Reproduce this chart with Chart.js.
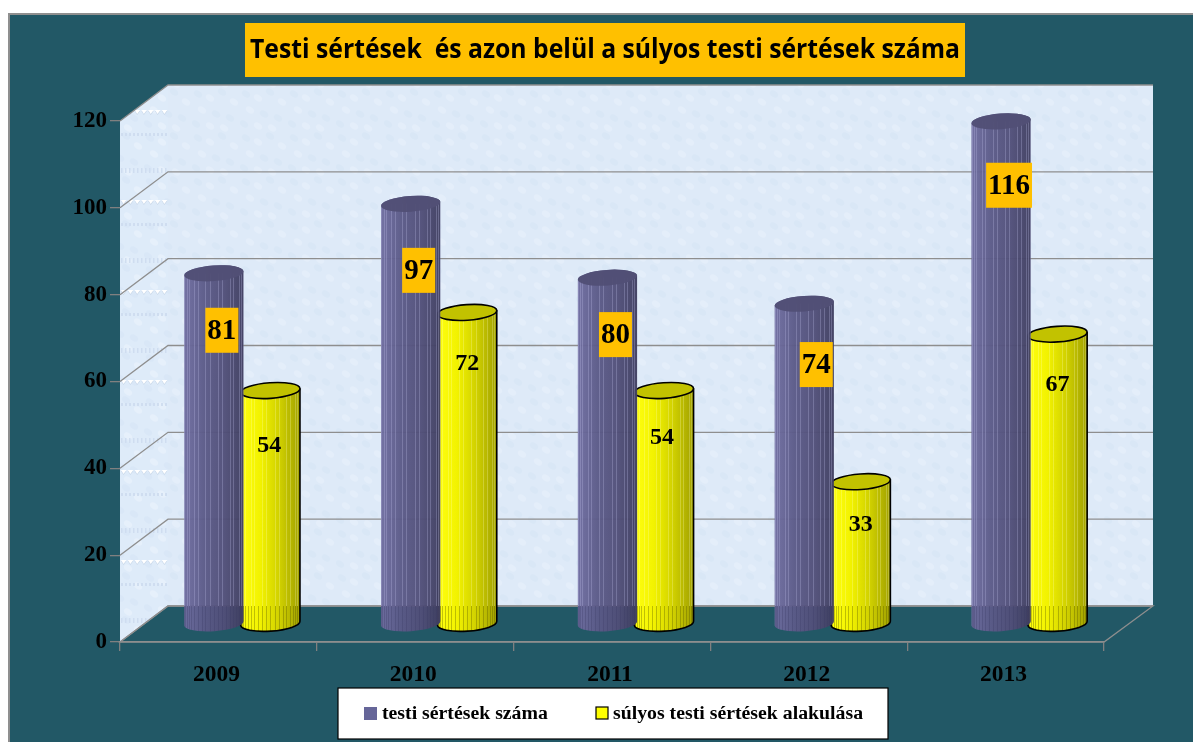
<!DOCTYPE html>
<html>
<head>
<meta charset="utf-8">
<style>html,body{margin:0;padding:0;background:#fff;overflow:hidden}canvas{display:block}</style>
<script src="https://cdn.jsdelivr.net/npm/chart.js@4"></script>
</head>
<body>
<canvas id="c" width="1193" height="742"></canvas>
<script>
const titleText = 'Testi sértések  és azon belül a súlyos testi sértések száma';
const years = ['2009', '2010', '2011', '2012', '2013'];
const testiSertesek = [81, 97, 80, 74, 116];
const sulyosSertesek = [54, 72, 54, 33, 67];
const seriesNames = ['testi sértések száma', 'súlyos testi sértések alakulása'];

const SERIF = '"Liberation Serif"';
const TEAL = '#225866', GREY = '#8e8e8e';
const WALL = {dx: 48, dy: -36};
const BAR = {dx: 23.7, dy: -17, rx: 29.7, ry: 7.8, rot: -0.07};
// Where each manually placed data label sits in the reference (axis units / px shift)
const labelPlace = [
  {at: [71.8, 85.6, 70.8, 63.9, 105.2], shift: [8, 8, 8, 12, 8], size: 29, box: true},
  {at: [45.5, 64.4, 47.3, 27.2, 59.5], shift: [-1, 0, -2, 0, 0], size: 24, box: false}
];
const looks = [
  {stops: ['#6f6da0', '#5b5a88', '#514f79', '#3f3e60'], top: '#514f76', line: null,
   light: 'rgba(190,190,230,0.30)', dark: 'rgba(60,60,100,0.30)', alpha: 0.96},
  {stops: ['#ffff10', '#f2f200', '#cfcf00', '#a0a000'], top: '#c2c200', line: '#000',
   light: 'rgba(255,255,200,0.25)', dark: 'rgba(90,90,0,0.35)', alpha: 1}
];

function wallTexture(base, a, b) {
  const t = document.createElement('canvas');
  t.width = 48; t.height = 44;
  const g = t.getContext('2d');
  g.fillStyle = base; g.fillRect(0, 0, 48, 44);
  const spots = [[6,6,a],[18,10,b],[30,4,a],[42,14,b],[10,22,b],[24,26,a],[38,30,a],[4,36,a],[18,38,b],[32,40,b]];
  for (const [x, y, col] of spots) {
    g.fillStyle = col;
    g.beginPath(); g.ellipse(x, y, 4.5, 3, 0.6, 0, Math.PI * 2); g.fill();
  }
  return t;
}

const scenePlugin = {
  id: 'scene',
  afterLayout(chart) {
    const t = chart.titleBlock;
    t.left = 250; t.right = 960;
  },
  beforeDraw(chart) {
    const c = chart.ctx, {left: L, right: R, top: T, bottom: B} = chart.chartArea;
    const y = chart.scales.y, d = WALL;
    c.save();
    c.fillStyle = '#fff'; c.fillRect(0, 0, 1193, 742);
    c.fillStyle = TEAL; c.fillRect(8, 13, 1185, 729);
    c.strokeStyle = '#8f8f8f'; c.lineWidth = 2;
    c.beginPath(); c.moveTo(9, 742); c.lineTo(9, 14); c.lineTo(1193, 14); c.stroke();
    // title plate
    c.fillStyle = '#ffc000'; c.fillRect(245, 23, 720, 54);
    // back wall
    c.fillStyle = c.createPattern(wallTexture('#deeaf8', '#d9e7f6', '#e4eefa'), 'repeat');
    c.fillRect(L + d.dx - 1, T + d.dy, R - L + 2, B - T);
    // side wall
    c.beginPath();
    c.moveTo(L, T); c.lineTo(L + d.dx, T + d.dy); c.lineTo(L + d.dx, B + d.dy); c.lineTo(L, B); c.closePath();
    c.fillStyle = c.createPattern(wallTexture('#deebf9', '#d9e7f7', '#e6f0fb'), 'repeat');
    c.fill();
    // hatch rows on the side wall, a tiled decoration of the reference
    c.save();
    c.clip();
    for (let k = 0; k < 6; k++) {
      const py = T - 11 + k * 90;
      c.fillStyle = 'rgba(205,220,238,0.9)';
      for (let x = L + 1; x < L + d.dx; x += 4) {
        c.fillRect(x, py + 23, 2, 3);
        c.fillRect(x, py + 58, 1.5, 5);
      }
      for (let x = L + 1; x < L + d.dx; x += 6.8) {
        c.fillStyle = '#c7d6e8';
        c.beginPath(); c.moveTo(x, py + 1); c.lineTo(x + 5.5, py + 1); c.lineTo(x + 2.5, py + 5); c.closePath(); c.fill();
        c.fillStyle = '#fff';
        c.beginPath(); c.moveTo(x, py); c.lineTo(x + 5.5, py); c.lineTo(x + 2.5, py + 4); c.closePath(); c.fill();
      }
    }
    c.restore();
    // floor
    c.fillStyle = TEAL;
    c.beginPath();
    c.moveTo(L, B); c.lineTo(R, B); c.lineTo(R + d.dx + 1, B + d.dy); c.lineTo(L + d.dx, B + d.dy); c.closePath();
    c.fill();
    c.strokeStyle = GREY; c.lineWidth = 1.3; c.stroke();
    // grid lines on walls
    c.beginPath();
    for (const tk of y.ticks) {
      const py = y.getPixelForValue(tk.value);
      c.moveTo(L, py); c.lineTo(L + d.dx, py + d.dy); c.lineTo(R + d.dx + 1, py + d.dy);
    }
    c.stroke();
    c.restore();
  },
  beforeDatasetDraw(chart, args) {
    const c = chart.ctx, look = looks[args.index];
    const floorY = chart.chartArea.bottom + WALL.dy;
    for (const el of args.meta.data) {
      const {rx, ry, rot} = BAR;
      const cx = el.x + BAR.dx, top = el.y + BAR.dy, base = el.base + BAR.dy - 1;
      const body = () => {
        c.beginPath();
        c.ellipse(cx, base, rx, ry, rot, 0, Math.PI);
        c.ellipse(cx, top, rx, ry, rot, Math.PI, Math.PI * 2);
        c.closePath();
      };
      c.save();
      c.globalAlpha = look.alpha;
      const g = c.createLinearGradient(cx - rx, 0, cx + rx, 0);
      look.stops.forEach((s, i) => g.addColorStop(i / (look.stops.length - 1), s));
      c.fillStyle = g; body(); c.fill();
      c.save(); body(); c.clip();
      c.lineWidth = 1;
      for (let i = 1; i < 22; i++) {
        const x = Math.round(cx - rx * Math.cos(Math.PI * i / 22)) + 0.5;
        if (i % 3 !== 2) {
          c.strokeStyle = look.light;
          c.beginPath(); c.moveTo(x, top); c.lineTo(x, floorY); c.stroke();
        }
        c.strokeStyle = look.dark;
        c.beginPath(); c.moveTo(x, floorY); c.lineTo(x, base + ry + 4); c.stroke();
      }
      c.restore();
      c.fillStyle = look.top;
      c.beginPath(); c.ellipse(cx, top, rx, ry, rot, 0, Math.PI * 2); c.fill();
      c.globalAlpha = 1;
      if (look.line) {
        c.strokeStyle = look.line; c.lineWidth = 1.6;
        body(); c.stroke();
        c.beginPath(); c.ellipse(cx, top, rx, ry, rot, 0, Math.PI); c.stroke();
      }
      c.restore();
    }
    return false;
  },
  afterDatasetsDraw(chart) {
    const c = chart.ctx, y = chart.scales.y;
    c.save();
    c.textAlign = 'center'; c.textBaseline = 'middle';
    chart.data.datasets.forEach((ds, i) => {
      const p = labelPlace[i], els = chart.getDatasetMeta(i).data;
      ds.data.forEach((v, j) => {
        const x = els[j].x + BAR.dx + p.shift[j], py = y.getPixelForValue(p.at[j]);
        c.font = `bold ${p.size}px ${SERIF}`;
        if (p.box) {
          const w = c.measureText(String(v)).width + 4;
          c.fillStyle = '#ffc000';
          c.fillRect(x - w / 2, py - 22.5, w, 45);
        }
        c.fillStyle = '#000';
        c.fillText(String(v), x, py + 1);
      });
    });
    c.restore();
  },
  afterDraw(chart) {
    const c = chart.ctx;
    c.save();
    c.fillStyle = '#fff'; c.fillRect(338, 688, 550, 51);
    c.strokeStyle = '#000'; c.lineWidth = 1.2; c.strokeRect(338, 688, 550, 51);
    c.font = `bold 19.8px ${SERIF}`; c.textBaseline = 'middle'; c.textAlign = 'left';
    c.fillStyle = chart.data.datasets[0].backgroundColor;
    c.fillRect(364, 707, 13, 13);
    c.fillStyle = chart.data.datasets[1].backgroundColor;
    c.fillRect(596, 707, 12, 12);
    c.strokeStyle = '#000'; c.lineWidth = 1.2; c.strokeRect(596, 707, 12, 12);
    c.fillStyle = '#000';
    c.fillText(chart.data.datasets[0].label, 382, 714);
    c.fillText(chart.data.datasets[1].label, 613, 714);
    c.restore();
  }
};

new Chart(document.getElementById('c'), {
  type: 'bar',
  data: {
    labels: years,
    datasets: [
      {label: seriesNames[0], data: testiSertesek, backgroundColor: '#666699'},
      {label: seriesNames[1], data: sulyosSertesek, backgroundColor: '#ffff00'}
    ]
  },
  plugins: [scenePlugin],
  options: {
    responsive: false,
    animation: false,
    devicePixelRatio: 1,
    layout: {padding: {left: 0, right: 89, top: 0, bottom: 0}},
    categoryPercentage: 0.574,
    barPercentage: 1,
    plugins: {
      legend: {display: false},
      tooltip: {enabled: false},
      title: {
        display: true, text: titleText, color: '#000',
        font: {family: '"Open Sans"', size: 26, weight: 'bold'},
        padding: {top: 35, bottom: 121 - 35 - 26 * 1.2}
      }
    },
    scales: {
      x: {
        afterFit(s) { s.height = 100; },
        grid: {drawOnChartArea: false, offset: true, tickLength: 9, color: '#808080', lineWidth: 1.3},
        border: {color: GREY, width: 1.3},
        ticks: {color: '#000', padding: 10, labelOffset: -2, font: {family: SERIF, size: 23.5, weight: 'bold'}}
      },
      y: {
        min: 0, max: 120,
        afterFit(s) { s.width = 120; },
        grid: {drawOnChartArea: false, tickLength: 10, color: '#808080', lineWidth: 1.3},
        border: {display: false},
        ticks: {stepSize: 20, color: '#000', padding: 3, font: {family: SERIF, size: 23, weight: 'bold'}}
      }
    }
  }
});
</script>
</body>
</html>
